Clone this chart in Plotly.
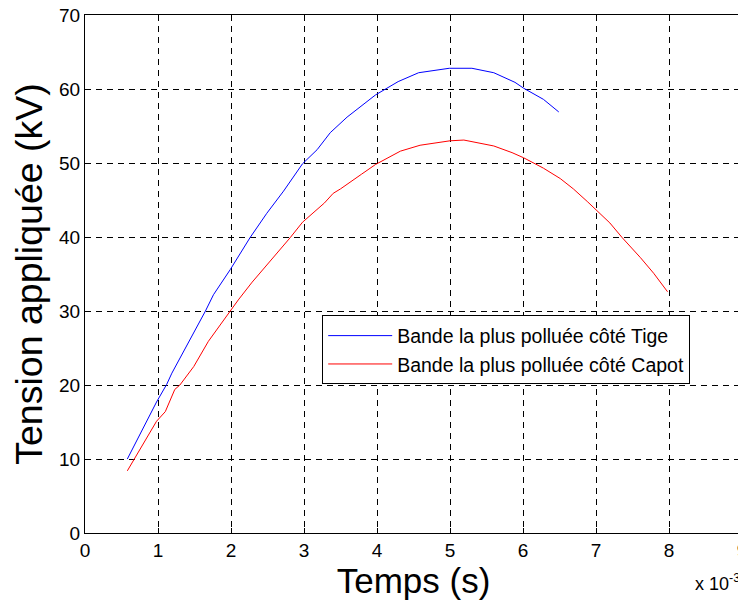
import plotly.graph_objects as go

# Time in ms (axis scaled x 10^-3), voltage in kV
t_tige = [0.58, 0.98, 1.12, 1.19, 1.65, 1.76, 1.99, 2.26, 2.49, 2.72, 2.98, 3.18, 3.36, 3.59,
          3.98, 4.29, 4.57, 4.99, 5.30, 5.60, 5.89, 6.01, 6.28, 6.49]
v_tige = [10.0, 17.7, 20.1, 21.6, 30.0, 32.2, 35.6, 39.9, 43.2, 46.2, 49.9, 51.8, 54.1, 56.2,
          59.2, 61.0, 62.2, 62.8, 62.8, 62.2, 60.9, 60.1, 58.6, 56.9]

t_capot = [0.58, 0.98, 1.10, 1.23, 1.30, 1.49, 1.69, 1.99, 2.10, 2.29, 2.58, 2.81, 2.98, 3.28,
           3.40, 3.50, 3.79, 3.98, 4.32, 4.59, 5.00, 5.19, 5.60, 5.85, 6.01, 6.28, 6.51,
           6.69, 6.88, 6.99, 7.19, 7.36, 7.61, 7.79, 7.98]
v_capot = [8.4, 15.1, 16.4, 19.4, 20.0, 22.5, 25.9, 30.0, 31.5, 33.9, 37.2, 39.9, 42.0, 44.6,
           45.9, 46.5, 48.5, 49.8, 51.6, 52.4, 53.0, 53.1, 52.3, 51.4, 50.7, 49.3, 47.9,
           46.5, 44.8, 43.8, 41.9, 39.9, 37.2, 35.1, 32.6]

x_ticks = [0, 1, 2, 3, 4, 5, 6, 7, 8, 9]
y_ticks = [0, 10, 20, 30, 40, 50, 60, 70]

name_tige = "Bande la plus polluée côté Tige"
name_capot = "Bande la plus polluée côté Capot"

font = "Liberation Sans, Arial, sans-serif"

fig = go.Figure()
fig.add_trace(go.Scatter(x=t_tige, y=v_tige, mode="lines", name=name_tige,
                         line=dict(color="#0000ff", width=1)))
fig.add_trace(go.Scatter(x=t_capot, y=v_capot, mode="lines", name=name_capot,
                         line=dict(color="#ff0000", width=1)))

axis_common = dict(
    showline=True, linecolor="black", linewidth=1, mirror="ticks",
    ticks="inside", ticklen=5, tickcolor="black",
    showgrid=True, gridcolor="black", gridwidth=1, griddash="6px,5px",
    zeroline=False, tickfont=dict(family=font, size=19, color="black"),
    automargin=False, ticklabeloverflow="allow",
)

fig.update_xaxes(range=[0, 9], tickvals=x_ticks, ticktext=[str(v) for v in x_ticks],
                 title=dict(text="Temps (s)", font=dict(family=font, size=35, color="black"),
                            standoff=3),
                 **axis_common)
fig.update_yaxes(range=[0, 70], tickvals=y_ticks, ticktext=[str(v) for v in y_ticks],
                 title=dict(text="Tension appliquée (kV)", font=dict(family=font, size=37.5, color="black"),
                            standoff=5),
                 **axis_common)

fig.add_annotation(xref="paper", yref="paper", x=1.0, y=-0.095, xanchor="right", yanchor="middle",
                   text="x 10<sup>-3</sup>", showarrow=False,
                   font=dict(family=font, size=18, color="black"))

fig.update_layout(
    width=746, height=603,
    margin=dict(l=77, r=12, t=7, b=78),
    paper_bgcolor="white", plot_bgcolor="white",
    showlegend=True,
    legend=dict(x=0.361, y=0.42, xanchor="left", yanchor="top",
                bgcolor="white", bordercolor="black", borderwidth=1,
                font=dict(family=font, size=19.5, color="black"),
                tracegroupgap=0, itemwidth=64),
)

fig.write_html("out.html")
